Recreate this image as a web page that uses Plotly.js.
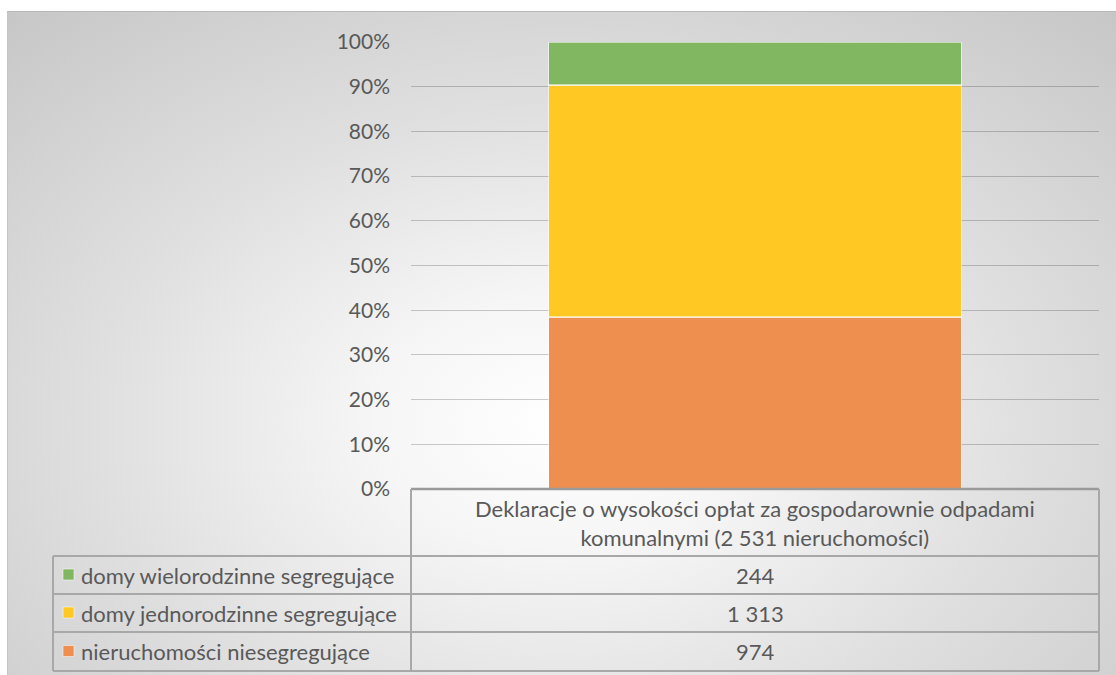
<!DOCTYPE html>
<html>
<head>
<meta charset="utf-8">
<script src="https://cdn.plot.ly/plotly-3.0.1.min.js"></script>
<style>
  html, body { margin: 0; padding: 0; background: #ffffff; }
  #panel {
    position: absolute; left: 7px; top: 11px; width: 1109px; height: 664px;
    border-top: 1px solid #b8b8b8; border-left: 1px solid #c4c4c4;
    box-sizing: border-box;
    background: radial-gradient(ellipse 75% 85% at 50% 62%, #ffffff 0%, #f6f6f6 22%, #e0e0e0 55%, #c6c6c6 100%);
  }
  #chart { position: absolute; left: 0; top: 0; width: 1116px; height: 675px; }
</style>
</head>
<body>
<div id="panel"></div>
<div id="chart"></div>
<script>
// ---- data ----
const category = ["Deklaracje o wysokości opłat za gospodarownie odpadami<br>komunalnymi (2 531 nieruchomości)"];
const seriesNames = ["nieruchomości niesegregujące", "domy jednorodzinne segregujące", "domy wielorodzinne segregujące"];
const seriesValues = [974, 1313, 244];
const seriesColors = ["#EE8F4F", "#FFC823", "#82B761"];
const yTickVals = [0, 0.1, 0.2, 0.3, 0.4, 0.5, 0.6, 0.7, 0.8, 0.9, 1.0];

// ---- layout geometry (pixels) ----
const W = 1116, H = 675;
const plotL = 411, plotR = 1099, plotT = 42, plotB = 489;
const px = x => (x - plotL) / (plotR - plotL);
const py = y => (plotB - y) / (plotB - plotT);

const FONT = "Lato, 'Open Sans', sans-serif";
const TXT = "#595959";
const FS = 22;

const traces = seriesNames.map((n, i) => ({
  type: "bar",
  name: n,
  x: category,
  y: [seriesValues[i]],
  marker: { color: seriesColors[i], line: { color: "rgba(255,255,255,0.55)", width: 1.5 } },
  hoverinfo: "skip",
  showlegend: false
}));

function fmt(v) { return String(v).replace(/\B(?=(\d{3})+(?!\d))/g, " "); }

const lineColor = "#a8a8a8";
const shapes = [];
function hline(x0, x1, y, w, c) {
  shapes.push({ type: "line", xref: "paper", yref: "paper", x0: px(x0), x1: px(x1), y0: py(y), y1: py(y),
    line: { color: c || lineColor, width: w || 2 } });
}
function vline(x, y0, y1, w, c) {
  shapes.push({ type: "line", xref: "paper", yref: "paper", x0: px(x), x1: px(x), y0: py(y0), y1: py(y1),
    line: { color: c || lineColor, width: w || 2 } });
}
const tableLeft = 53, rowTops = [556, 594, 632], tableBottom = 671;
hline(plotL, plotR, plotB, 2.5, "#9a9a9a");
rowTops.forEach(t => hline(tableLeft, plotR, t));
hline(tableLeft, plotR, tableBottom);
vline(plotL, plotB, tableBottom);
vline(plotR, plotB, tableBottom);
vline(tableLeft, rowTops[0], tableBottom);

const annotations = [];
// header
annotations.push({ xref: "paper", yref: "paper", x: px((plotL + plotR) / 2), y: py(523),
  text: category[0], showarrow: false, xanchor: "center", yanchor: "middle",
  font: { family: FONT, size: FS, color: TXT }, align: "center" });

// rows: top row is last series
const rowOrder = [2, 1, 0];
rowOrder.forEach((si, r) => {
  const top = rowTops[r];
  const bottom = r < rowTops.length - 1 ? rowTops[r + 1] : tableBottom;
  const cy = (top + bottom) / 2;
  shapes.push({ type: "rect", xref: "paper", yref: "paper",
    x0: px(63), x1: px(74), y0: py(cy - 6), y1: py(cy + 5),
    fillcolor: seriesColors[si], line: { color: "rgba(255,255,255,0.5)", width: 1 } });
  annotations.push({ xref: "paper", yref: "paper", x: px(79), y: py(cy),
    text: seriesNames[si], showarrow: false, xanchor: "left", yanchor: "middle",
    font: { family: FONT, size: FS, color: TXT } });
  annotations.push({ xref: "paper", yref: "paper", x: px((plotL + plotR) / 2), y: py(cy),
    text: fmt(seriesValues[si]), showarrow: false, xanchor: "center", yanchor: "middle",
    font: { family: FONT, size: FS, color: TXT } });
});

const layout = {
  width: W, height: H,
  margin: { l: plotL, r: W - plotR, t: plotT, b: H - plotB, pad: 0 },
  paper_bgcolor: "rgba(0,0,0,0)",
  plot_bgcolor: "rgba(0,0,0,0)",
  barmode: "stack",
  barnorm: "fraction",
  bargap: 0.4,
  showlegend: false,
  xaxis: { showticklabels: false, showgrid: false, zeroline: false, showline: false, ticks: "" },
  yaxis: {
    range: [0, 1], tickvals: yTickVals, tickformat: ".0%",
    showgrid: true, gridcolor: "rgba(0,0,0,0.2)", gridwidth: 1,
    zeroline: false, showline: false, ticks: "",
    ticklabelstandoff: 20,
    tickfont: { family: FONT, size: 21, color: TXT }
  },
  shapes: shapes,
  annotations: annotations
};

Plotly.newPlot("chart", traces, layout, { displayModeBar: false, staticPlot: true });
</script>
</body>
</html>
